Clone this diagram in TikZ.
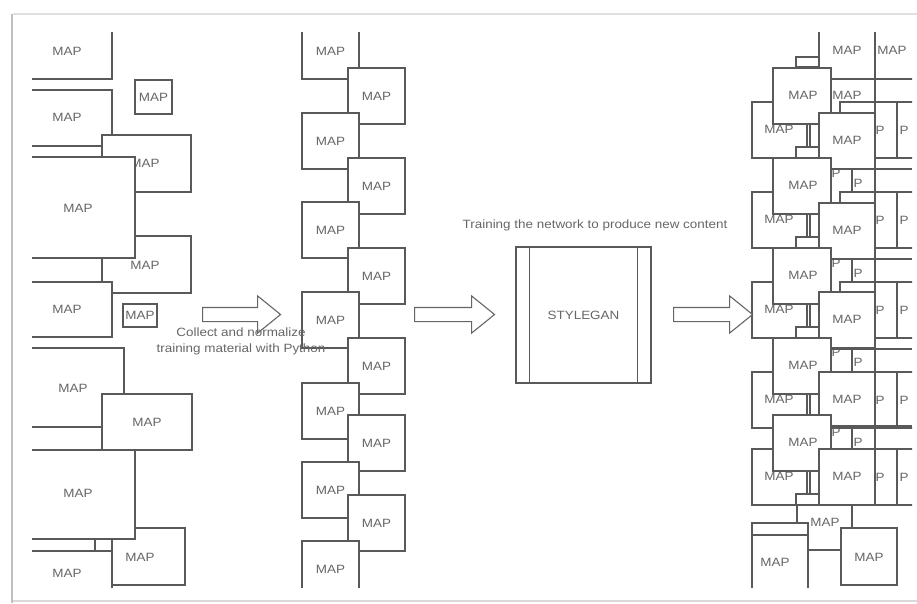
\documentclass[tikz,border=0pt]{standalone}
\usepackage{fontspec}
\setmainfont{Liberation Sans}[FakeStretch=1.12]
\usetikzlibrary{shapes.arrows}

\tikzset{
	mapbox/.style={draw=black!65, line width=1.3pt, fill=white},
	smallbox/.style={mapbox, line width=2pt},
	maptext/.style={text=black!60, font=\fontsize{12}{14}\selectfont, inner sep=0pt},
	bigarrow/.style={single arrow, draw=black!60, line width=1.1pt, fill=white,
		inner xsep=0pt, inner ysep=6.5pt, single arrow head extend=11.5pt,
		single arrow tip angle=78, anchor=tail},
}

\begin{document}
\begin{tikzpicture}[x=1pt, y=-1pt]
	\useasboundingbox (0,0) rectangle (917,603);
	% frame
	\draw[black!25, line width=2.5pt] (12,603) -- (12,14);
	\draw[black!12, line width=2pt] (13,14) -- (917,14);
	\draw[black!15, line width=1.5pt] (13,601) -- (917,601);

	\begin{scope}
		\clip (32,32) rectangle (912,587);
		% training material
		\foreach \xa/\ya/\xb/\yb/\tx/\ty [count=\i] in {
			0/0/112/79/67/51, 0/90/112/146/67/117, 102/135/191/192/145/163,
			102/236/191/293/145/265, 0/157/135/258/78/208, 0/282/112/337/67/309,
			0/348/124/427/73/388, 102/394/192/450/147/422, 112/528/185/585/140/557,
			0/450/135/539/78/493}
		{
			\filldraw[mapbox] (\xa,\ya) rectangle (\xb,\yb);
			\node[maptext] (lmap\i) at (\tx,\ty) {MAP};
		}
		\filldraw[mapbox] (0,539) rectangle (95,620);
		\filldraw[mapbox] (0,551) rectangle (112,620);
		\node[maptext] (lmap11) at (67,573) {MAP};
		\filldraw[smallbox] (135,80) rectangle (172,114);
		\node[maptext] (lsmall1) at (153.5,97) {MAP};
		\filldraw[smallbox] (123,304) rectangle (157,327);
		\node[maptext] (lsmall2) at (140,315.5) {MAP};

		% normalized material
		\foreach \xa/\ya [count=\i] in {302/23, 348/68, 302/113, 348/158, 302/202,
			348/248, 302/292, 348/338, 302/383, 348/415, 302/462, 348/495, 302/541}
		{
			\filldraw[mapbox] (\xa,\ya) rectangle +(57,56);
			\node[maptext] (mmap\i) at (\xa+28.5,\ya+28) {MAP};
		}

		% generated content
		\filldraw[mapbox] (875,-10) rectangle (935,79);
		\node[maptext] (rtop2) at (892,50) {MAP};
		\filldraw[mapbox] (819,23) rectangle (875,79);
		\node[maptext] (rtop1) at (847,50) {MAP};
		\filldraw[mapbox] (796,57) rectangle (819,67);
		\node[maptext] (rmid) at (847,95) {MAP};
		\foreach \t/\r in {68/45, 158/45, 248/44, 338/34, 415/34}
		{
			\draw[mapbox] (831,\t+11) -- (912,\t+11);
			\filldraw[mapbox] (875,\t+34) rectangle (935,\t+90);
			\filldraw[mapbox] (840,\t+34) rectangle (897,\t+90);
			\node[maptext] (rfar\t) at (904,\t+62) {P};
			\filldraw[mapbox] (752,\t+34) rectangle (810,\t+90);
			\node[maptext] (rlw\t) at (779,\t+61) {MAP};
			\filldraw[mapbox] (773,\t) rectangle (831,\t+56);
			\node[maptext] (rlu\t) at (803,\t+27) {MAP};
			\draw[mapbox] (807,\t+56) -- (807,\t+79);
			\filldraw[mapbox] (796,\t+79) rectangle (819,\t+90);
			\filldraw[mapbox] (819,\t+\r) rectangle (875,\t+\r+56);
			\node[maptext] (rm\t) at (847,\t+\r+27) {MAP};
			\node[maptext] (rr\t) at (880,\t+62) {P};
			\draw[mapbox] (852,\t+\r+56) -- (852,\t+\r+79);
			\ifnum\t<400
				\node[maptext] (rpa\t) at (836,\t+\r+60) {P};
				\node[maptext] (rpb\t) at (858,\t+\r+70) {P};
			\fi
		}
		\draw[mapbox] (875,32) -- (875,505);
		\draw[mapbox] (752,505) -- (912,505);
		\draw[mapbox] (797,505) -- (797,523);
		\node[maptext] (rlow) at (825,522) {MAP};
		\filldraw[mapbox] (752,523) rectangle (808,620);
		\draw[mapbox] (752,535) -- (808,535);
		\node[maptext] (rbl) at (775,562) {MAP};
		\filldraw[mapbox] (841,528) rectangle (897,585);
		\node[maptext] (rbr) at (869,557) {MAP};
		\draw[mapbox] (808,550) -- (841,550);
	\end{scope}

	% pipeline
	\node[bigarrow, minimum height=78pt, minimum width=36pt] (collect) at (202,314.5) {};
	\node[bigarrow, minimum height=80pt, minimum width=36pt] (train) at (414,314.5) {};
	\node[bigarrow, minimum height=79pt, minimum width=36pt] (produce) at (673,314.5) {};
	\node[maptext, align=center, font=\fontsize{12}{16}\selectfont] (caption) at (241,341)
		{Collect and normalize\\training material with Python};
	\node[maptext] (title) at (595,225) {Training the network to produce new content};
	\node[maptext, draw=black!65, line width=1.3pt, minimum width=135pt, minimum height=136pt]
		(gan) at (583.5,315) {STYLEGAN};
	\draw[black!65, line width=1.3pt] ([xshift=14pt]gan.north west) -- ([xshift=14pt]gan.south west)
		([xshift=-14pt]gan.north east) -- ([xshift=-14pt]gan.south east);
\end{tikzpicture}
\end{document}
